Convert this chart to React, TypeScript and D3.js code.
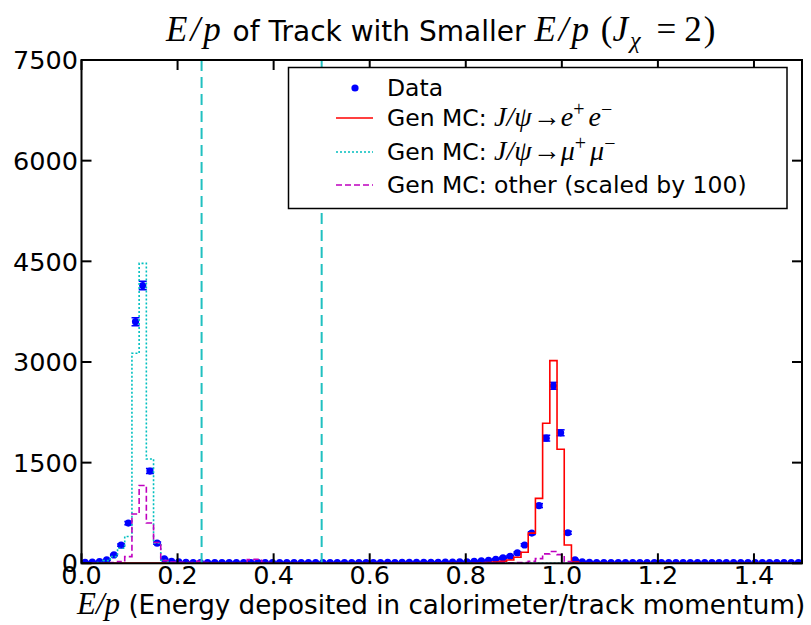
import React, { useEffect, useRef } from "react";
import * as d3 from "d3";

// 100 bins of width 0.015 over E/p in [0, 1.5]
const binWidth = 0.015;

const dataCounts = [
  15, 18, 25, 50, 125, 270, 600, 3600, 4140, 1375,
  300, 65, 30, 20, 15, 12, 12, 11, 12, 10,
  11, 12, 10, 11, 12, 11, 10, 12, 11, 10,
  11, 10, 12, 11, 10, 11, 12, 10, 11, 12,
  11, 12, 13, 12, 13, 14, 13, 15, 14, 16,
  17, 18, 20, 22, 28, 35, 45, 60, 80, 105,
  155, 273, 450, 860, 1865, 2645, 1945, 455, 50, 22,
  14, 12, 11, 10, 11, 10, 10, 11, 10, 10,
  11, 10, 10, 9, 10, 11, 10, 9, 10, 10,
  9, 10, 10, 9, 10, 9, 10, 9, 9, 10,
];

const mcEE = [
  1, 1, 1, 2, 2, 2, 3, 4, 4, 3,
  2, 2, 1, 1, 1, 1, 1, 1, 1, 1,
  1, 1, 1, 1, 1, 1, 1, 1, 1, 1,
  1, 1, 1, 1, 1, 1, 1, 1, 1, 1,
  1, 1, 1, 2, 1, 2, 2, 2, 2, 2,
  2, 2, 3, 3, 4, 6, 10, 18, 30, 50,
  90, 165, 450, 968, 2086, 3020, 1700, 273, 20, 6,
  3, 2, 2, 1, 1, 1, 1, 1, 1, 1,
  1, 1, 1, 1, 1, 1, 1, 1, 1, 1,
  1, 1, 1, 1, 1, 1, 1, 1, 1, 1,
];

const mcMuMu = [
  2, 5, 12, 40, 100, 225, 400, 3130, 4470, 1555,
  300, 45, 12, 5, 3, 2, 1, 1, 1, 1,
  1, 1, 1, 1, 1, 1, 1, 1, 1, 1,
  1, 1, 1, 1, 1, 1, 1, 1, 1, 1,
  1, 1, 1, 1, 1, 1, 1, 1, 1, 1,
  1, 1, 1, 1, 1, 1, 1, 1, 1, 1,
  1, 1, 1, 1, 1, 1, 1, 1, 1, 1,
  1, 1, 1, 1, 1, 1, 1, 1, 1, 1,
  1, 1, 1, 1, 1, 1, 1, 1, 1, 1,
  1, 1, 1, 1, 1, 1, 1, 1, 1, 1,
];

// scaled by 100
const mcOther = [
  0, 0, 2, 5, 10, 25, 100, 735, 1160, 600,
  310, 40, 20, 15, 10, 10, 30, 10, 8, 6,
  5, 6, 8, 55, 60, 10, 6, 5, 4, 5,
  4, 5, 4, 3, 4, 5, 4, 3, 4, 3,
  3, 4, 3, 4, 3, 4, 5, 4, 5, 6,
  5, 6, 5, 6, 7, 6, 8, 8, 10, 8,
  10, 12, 30, 70, 140, 175, 130, 25, 5, 2,
  1, 1, 1, 1, 1, 1, 1, 1, 1, 1,
  1, 1, 1, 1, 1, 1, 1, 1, 1, 1,
  1, 1, 1, 1, 1, 1, 1, 1, 1, 1,
];

const cutLines = [0.25, 0.5];
const xTicks = [0, 0.2, 0.4, 0.6, 0.8, 1.0, 1.2, 1.4];
const yTicks = [0, 1500, 3000, 4500, 6000, 7500];

const SANS = "DejaVu Sans";
const MATH = "Liberation Serif";

const App = () => {
  const svgRef = useRef<SVGSVGElement>(null);

  useEffect(() => {
    const svg = d3.select(svgRef.current);
    svg.selectAll("*").remove();

    const left = 81.5, right = 802, top = 60, bottom = 563.3;

    const x = d3.scaleLinear().domain([0, 1.5]).range([left, right]);
    const y = d3.scaleLinear().domain([0, 7500]).range([bottom, top]);

    svg.append("defs").append("clipPath").attr("id", "plotClip")
      .append("rect")
      .attr("x", left).attr("y", top)
      .attr("width", right - left).attr("height", bottom - top);

    const plot = svg.append("g").attr("clip-path", "url(#plotClip)");

    // step outline like histtype='step'
    const stepLine = d3.line<[number, number]>()
      .x((d) => x(d[0]))
      .y((d) => y(d[1]));
    const stepPoints = (vals: number[]) => {
      const pts: [number, number][] = [[0, 0]];
      vals.forEach((v, i) => {
        pts.push([i * binWidth, v]);
        pts.push([(i + 1) * binWidth, v]);
      });
      pts.push([vals.length * binWidth, 0]);
      return pts;
    };

    // data points with sqrt(N) error bars
    const pts = plot.append("g");
    dataCounts.forEach((v, i) => {
      const cx = x((i + 0.5) * binWidth);
      const err = Math.sqrt(v);
      pts.append("line")
        .attr("x1", cx).attr("x2", cx)
        .attr("y1", y(v - err)).attr("y2", y(v + err))
        .attr("stroke", "#0000ff").attr("stroke-width", 1.5);
      [v - err, v + err].forEach((e) => {
        pts.append("line")
          .attr("x1", cx - 4).attr("x2", cx + 4)
          .attr("y1", y(e)).attr("y2", y(e))
          .attr("stroke", "#0000ff").attr("stroke-width", 1.5);
      });
      pts.append("circle")
        .attr("cx", cx).attr("cy", y(v)).attr("r", 3.6)
        .attr("fill", "#0000ff");
    });

    plot.append("path")
      .attr("d", stepLine(stepPoints(mcEE)))
      .attr("fill", "none").attr("stroke", "#ff0000").attr("stroke-width", 1.6);
    plot.append("path")
      .attr("d", stepLine(stepPoints(mcMuMu)))
      .attr("fill", "none").attr("stroke", "#00bfbf").attr("stroke-width", 1.6)
      .attr("stroke-dasharray", "2,2");
    plot.append("path")
      .attr("d", stepLine(stepPoints(mcOther)))
      .attr("fill", "none").attr("stroke", "#bf00bf").attr("stroke-width", 1.6)
      .attr("stroke-dasharray", "6,3");

    // cut lines
    plot.selectAll(".cut")
      .data(cutLines)
      .enter()
      .append("line")
      .attr("x1", (d) => x(d)).attr("x2", (d) => x(d))
      .attr("y1", top).attr("y2", bottom)
      .attr("stroke", "#20c0c0").attr("stroke-width", 2)
      .attr("stroke-dasharray", "11,6");

    // ticks (inside, all four sides)
    const tl = 10;
    const ticks = svg.append("g").attr("stroke", "#000").attr("stroke-width", 2);
    xTicks.forEach((t) => {
      ticks.append("line").attr("x1", x(t)).attr("x2", x(t)).attr("y1", bottom).attr("y2", bottom - tl);
      ticks.append("line").attr("x1", x(t)).attr("x2", x(t)).attr("y1", top).attr("y2", top + tl);
    });
    yTicks.forEach((t) => {
      ticks.append("line").attr("x1", left).attr("x2", left + tl).attr("y1", y(t)).attr("y2", y(t));
      ticks.append("line").attr("x1", right).attr("x2", right - tl).attr("y1", y(t)).attr("y2", y(t));
    });

    svg.append("rect")
      .attr("x", left).attr("y", top)
      .attr("width", right - left).attr("height", bottom - top)
      .attr("fill", "none").attr("stroke", "#000").attr("stroke-width", 2);

    // tick labels
    svg.selectAll(".xl")
      .data(xTicks)
      .enter()
      .append("text")
      .attr("x", (d) => x(d))
      .attr("y", 584)
      .attr("text-anchor", "middle")
      .attr("font-family", SANS)
      .attr("font-size", 25.5)
      .text((d) => d3.format(".1f")(d));

    svg.selectAll(".yl")
      .data(yTicks)
      .enter()
      .append("text")
      .attr("x", 78)
      .attr("y", (d) => y(d))
      .attr("dy", "0.36em")
      .attr("text-anchor", "end")
      .attr("font-family", SANS)
      .attr("font-size", 25.5)
      .text((d) => d);

    // title, centred over the axes
    const title = svg.append("text")
      .attr("x", (left + right) / 2)
      .attr("y", 41)
      .attr("text-anchor", "middle")
      .attr("font-family", SANS)
      .attr("font-size", 28);
    const m = (s: string, size = 35, italic = true) =>
      title.append("tspan").attr("font-family", MATH)
        .attr("font-style", italic ? "italic" : "normal")
        .attr("font-size", size).text(s);
    m("E/p").attr("letter-spacing", 3);
    title.append("tspan").text(" of Track with Smaller ");
    m("E/p").attr("letter-spacing", 3);
    m(" (", 35, false);
    m("J");
    m("χ", 24).attr("dy", 7).attr("dx", 2);
    m("=", 35, false).attr("dy", -7).attr("dx", 16);
    m("2)", 35, false).attr("dx", 8).attr("letter-spacing", 2);

    // x label
    const xlab = svg.append("text")
      .attr("x", 77)
      .attr("y", 614)
      .attr("font-family", SANS)
      .attr("font-size", 26.2);
    xlab.append("tspan").attr("font-family", MATH).attr("font-style", "italic").attr("font-size", 31).text("E/p");
    xlab.append("tspan").text(" (Energy deposited in calorimeter/track momentum)");

    // legend
    const lg = svg.append("g");
    lg.append("rect")
      .attr("x", 288.5).attr("y", 67.5).attr("width", 498.5).attr("height", 141)
      .attr("fill", "#fff").attr("stroke", "#000").attr("stroke-width", 1.5);

    const rows = [
      { kind: "dot", y: 88 },
      { kind: "line", y: 118, color: "#ff0000", dash: null, sym: ["e", "e"] },
      { kind: "line", y: 152, color: "#00bfbf", dash: "2,2", sym: ["μ", "μ"] },
      { kind: "line", y: 185, color: "#bf00bf", dash: "6,3", sym: null },
    ];
    rows.forEach((r) => {
      if (r.kind === "dot") {
        lg.append("circle").attr("cx", 355).attr("cy", r.y).attr("r", 3.6).attr("fill", "#0000ff");
        lg.append("text").attr("x", 387).attr("y", r.y).attr("dy", "0.36em")
          .attr("font-family", SANS).attr("font-size", 23.5).text("Data");
        return;
      }
      lg.append("line").attr("x1", 336).attr("x2", 373).attr("y1", r.y).attr("y2", r.y)
        .attr("stroke", r.color!).attr("stroke-width", 1.6)
        .attr("stroke-dasharray", r.dash);
      const t = lg.append("text").attr("x", 387).attr("y", r.y).attr("dy", "0.36em")
        .attr("font-family", SANS).attr("font-size", 23.5);
      if (r.sym) {
        t.append("tspan").text("Gen MC: ");
        t.append("tspan").attr("font-family", MATH).attr("font-style", "italic").attr("font-size", 28).text("J/ψ");
        t.append("tspan").attr("font-family", MATH).attr("font-size", 28).attr("dx", 1).text("→");
        t.append("tspan").attr("font-family", MATH).attr("font-style", "italic").attr("font-size", 28).text(r.sym[0]);
        t.append("tspan").attr("font-family", MATH).attr("font-size", 20).attr("dy", -10).text("+");
        t.append("tspan").attr("font-family", MATH).attr("font-style", "italic").attr("font-size", 28).attr("dy", 10).attr("dx", 4).text(r.sym[1]);
        t.append("tspan").attr("font-family", MATH).attr("font-size", 20).attr("dy", -10).text("−");
      } else {
        t.text("Gen MC: other (scaled by 100)");
      }
    });
  }, []);

  return (
    <svg
      ref={svgRef}
      width={811}
      height={625}
      style={{ position: "absolute", left: 0, top: 0, background: "#fff" }}
    />
  );
};

export default App;
